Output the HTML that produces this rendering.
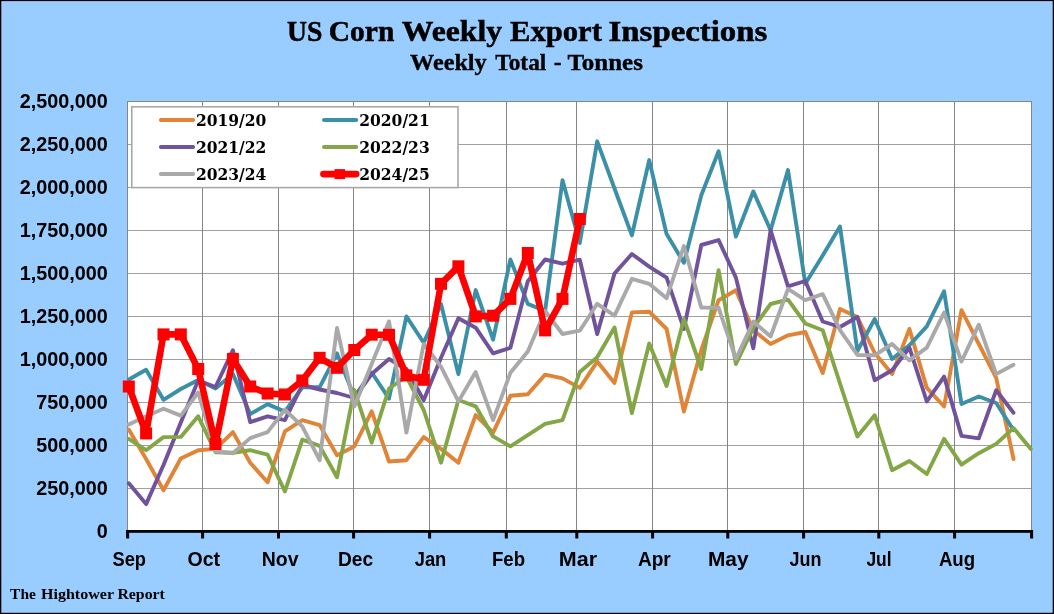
<!DOCTYPE html>
<html><head><meta charset="utf-8"><title>US Corn Weekly Export Inspections</title>
<style>
html,body{margin:0;padding:0;background:#99ccff;}
body{width:1054px;height:614px;overflow:hidden;position:relative;}
svg{position:absolute;left:0;top:0;display:block;}
.t1{font-family:"Liberation Serif",serif;font-weight:bold;font-size:29.5px;fill:#000;stroke:#000;stroke-width:0.5px;}
.t2{font-family:"Liberation Serif",serif;font-weight:bold;font-size:23.4px;fill:#000;stroke:#000;stroke-width:0.35px;}
.ax{font-family:"Liberation Sans",sans-serif;font-weight:bold;font-size:19.8px;fill:#000;}
.lg{font-family:"DejaVu Serif","Liberation Serif",serif;font-weight:bold;font-size:16.4px;fill:#000;}
.ft{font-family:"Liberation Serif",serif;font-weight:bold;font-size:14.5px;fill:#000;}
</style></head><body>
<svg width="1054" height="614" viewBox="0 0 1054 614">

<rect x="0" y="0" width="1054" height="614" fill="#99ccff"/>
<rect x="0" y="0" width="1054" height="1.1" fill="#000"/>
<rect x="0" y="0" width="1.3" height="614" fill="#000"/>
<rect x="1052.7" y="0" width="1.3" height="614" fill="#000"/>
<rect x="0" y="612.8" width="1054" height="1.2" fill="#000"/>
<rect x="127.5" y="101.0" width="904.0" height="430.0" fill="#fff"/>
<path d="M127.5 488.5H1031.5M127.5 445.5H1031.5M127.5 402.5H1031.5M127.5 359.5H1031.5M127.5 316.5H1031.5M127.5 273.5H1031.5M127.5 230.5H1031.5M127.5 187.5H1031.5M127.5 144.5H1031.5M127.5 101.5H1031.5" stroke="#a0a0a0" stroke-width="1" fill="none"/>
<path d="M202.5 101.0V531.0M278.5 101.0V531.0M353.5 101.0V531.0M429.5 101.0V531.0M506.5 101.0V531.0M576.5 101.0V531.0M652.5 101.0V531.0M727.5 101.0V531.0M803.5 101.0V531.0M878.5 101.0V531.0M954.5 101.0V531.0" stroke="#848484" stroke-width="1" fill="none"/>
<rect x="127.5" y="101.5" width="904.0" height="430.0" fill="none" stroke="#868686" stroke-width="1"/>
<polyline points="128.8,429.6 146.1,459.0 163.5,490.3 180.8,458.5 198.2,450.2 215.5,448.9 232.9,432.1 250.2,462.7 267.6,482.3 284.9,431.4 302.3,420.1 319.6,425.1 337.0,455.2 354.3,446.4 371.7,411.3 389.0,461.5 406.4,460.2 423.7,437.1 441.0,448.9 458.4,462.7 475.7,415.1 493.1,432.6 510.4,395.8 527.8,394.3 545.1,374.6 562.5,378.4 579.8,387.9 597.2,361.6 614.5,382.9 631.9,312.4 649.2,311.7 666.6,329.0 683.9,411.5 701.3,350.0 718.6,300.2 735.9,290.2 753.3,330.3 770.6,344.1 788.0,335.3 805.3,332.0 822.7,373.0 840.0,309.0 857.4,317.0 874.7,353.0 892.1,374.1 909.4,328.9 926.8,387.9 944.1,406.5 961.5,310.1 978.8,344.0 996.2,377.8 1013.5,459.0" fill="none" stroke="#e08537" stroke-width="3.9" stroke-linejoin="round" stroke-linecap="round"/>
<polyline points="128.8,379.5 146.1,369.7 163.5,399.8 180.8,389.0 198.2,380.0 215.5,388.5 232.9,374.0 250.2,414.1 267.6,404.1 284.9,411.6 302.3,387.3 319.6,387.3 337.0,353.4 354.3,397.0 371.7,372.5 389.0,398.6 406.4,316.4 423.7,342.8 441.0,304.0 458.4,374.1 475.7,290.1 493.1,339.7 510.4,259.4 527.8,303.9 545.1,311.0 562.5,180.2 579.8,243.0 597.2,141.3 614.5,188.5 631.9,235.4 649.2,160.1 666.6,234.1 683.9,262.8 701.3,195.2 718.6,151.3 735.9,236.5 753.3,191.4 770.6,230.3 788.0,170.1 805.3,283.8 822.7,255.5 840.0,226.5 857.4,351.0 874.7,319.0 892.1,359.0 909.4,345.2 926.8,326.4 944.1,291.3 961.5,404.0 978.8,396.5 996.2,403.0 1013.5,430.1" fill="none" stroke="#3b90a8" stroke-width="3.9" stroke-linejoin="round" stroke-linecap="round"/>
<polyline points="128.8,483.3 146.1,504.1 163.5,465.0 180.8,422.5 198.2,380.5 215.5,387.0 232.9,350.2 250.2,422.1 267.6,416.3 284.9,420.1 302.3,385.0 319.6,389.5 337.0,393.0 354.3,398.0 371.7,374.0 389.0,359.0 406.4,369.0 423.7,400.3 441.0,357.8 458.4,318.2 475.7,327.7 493.1,353.3 510.4,347.8 527.8,281.3 545.1,259.5 562.5,263.7 579.8,259.7 597.2,334.0 614.5,273.5 631.9,254.0 649.2,266.6 666.6,277.7 683.9,329.0 701.3,245.0 718.6,240.1 735.9,277.6 753.3,348.3 770.6,230.3 788.0,286.4 805.3,281.0 822.7,321.5 840.0,327.0 857.4,317.0 874.7,380.2 892.1,370.3 909.4,347.7 926.8,401.5 944.1,376.6 961.5,435.9 978.8,438.4 996.2,390.2 1013.5,412.7" fill="none" stroke="#70539b" stroke-width="3.9" stroke-linejoin="round" stroke-linecap="round"/>
<polyline points="128.8,438.9 146.1,450.2 163.5,437.1 180.8,436.9 198.2,416.3 215.5,452.2 232.9,452.7 250.2,450.2 267.6,454.7 284.9,491.5 302.3,439.7 319.6,445.9 337.0,477.3 354.3,390.0 371.7,442.7 389.0,388.5 406.4,376.5 423.7,410.0 441.0,462.7 458.4,400.0 475.7,406.3 493.1,436.4 510.4,446.4 527.8,435.1 545.1,423.9 562.5,420.1 579.8,372.1 597.2,357.3 614.5,327.5 631.9,413.0 649.2,343.5 666.6,386.0 683.9,319.0 701.3,369.0 718.6,270.2 735.9,364.0 753.3,327.8 770.6,304.0 788.0,299.7 805.3,323.5 822.7,330.2 840.0,383.5 857.4,436.5 874.7,415.2 892.1,470.2 909.4,461.0 926.8,474.0 944.1,438.9 961.5,464.7 978.8,453.2 996.2,443.9 1013.5,428.1 1030.8,448.9" fill="none" stroke="#83a646" stroke-width="3.9" stroke-linejoin="round" stroke-linecap="round"/>
<polyline points="128.8,424.6 146.1,416.3 163.5,408.8 180.8,415.6 198.2,392.5 215.5,451.4 232.9,453.2 250.2,438.1 267.6,432.1 284.9,409.6 302.3,426.4 319.6,460.2 337.0,328.0 354.3,406.4 371.7,364.0 389.0,321.4 406.4,432.6 423.7,344.0 441.0,366.6 458.4,401.5 475.7,372.1 493.1,420.1 510.4,372.8 527.8,351.5 545.1,311.0 562.5,334.0 579.8,330.7 597.2,303.8 614.5,315.6 631.9,278.8 649.2,283.8 666.6,298.2 683.9,246.0 701.3,307.6 718.6,307.8 735.9,359.0 753.3,321.5 770.6,336.5 788.0,288.9 805.3,300.1 822.7,294.2 840.0,330.2 857.4,355.0 874.7,355.3 892.1,344.0 909.4,360.3 926.8,347.7 944.1,312.6 961.5,361.5 978.8,324.7 996.2,374.1 1013.5,364.8" fill="none" stroke="#a9a9a9" stroke-width="3.9" stroke-linejoin="round" stroke-linecap="round"/>
<polyline points="128.8,386.5 146.1,433.4 163.5,334.4 180.8,334.4 198.2,369.0 215.5,444.0 232.9,358.9 250.2,386.5 267.6,393.5 284.9,394.5 302.3,380.5 319.6,357.8 337.0,367.8 354.3,350.0 371.7,334.7 389.0,334.8 406.4,375.4 423.7,379.8 441.0,283.8 458.4,266.3 475.7,316.4 493.1,315.7 510.4,298.9 527.8,253.0 545.1,330.4 562.5,298.9 579.8,219.0" fill="none" stroke="#ff0000" stroke-width="6.6" stroke-linejoin="round" stroke-linecap="round"/>
<rect x="122.8" y="380.5" width="12" height="12" fill="#ff0000"/><rect x="140.1" y="427.4" width="12" height="12" fill="#ff0000"/><rect x="157.5" y="328.4" width="12" height="12" fill="#ff0000"/><rect x="174.8" y="328.4" width="12" height="12" fill="#ff0000"/><rect x="192.2" y="363.0" width="12" height="12" fill="#ff0000"/><rect x="209.5" y="438.0" width="12" height="12" fill="#ff0000"/><rect x="226.9" y="352.9" width="12" height="12" fill="#ff0000"/><rect x="244.2" y="380.5" width="12" height="12" fill="#ff0000"/><rect x="261.6" y="387.5" width="12" height="12" fill="#ff0000"/><rect x="278.9" y="388.5" width="12" height="12" fill="#ff0000"/><rect x="296.3" y="374.5" width="12" height="12" fill="#ff0000"/><rect x="313.6" y="351.8" width="12" height="12" fill="#ff0000"/><rect x="331.0" y="361.8" width="12" height="12" fill="#ff0000"/><rect x="348.3" y="344.0" width="12" height="12" fill="#ff0000"/><rect x="365.7" y="328.7" width="12" height="12" fill="#ff0000"/><rect x="383.0" y="328.8" width="12" height="12" fill="#ff0000"/><rect x="400.4" y="369.4" width="12" height="12" fill="#ff0000"/><rect x="417.7" y="373.8" width="12" height="12" fill="#ff0000"/><rect x="435.0" y="277.8" width="12" height="12" fill="#ff0000"/><rect x="452.4" y="260.3" width="12" height="12" fill="#ff0000"/><rect x="469.7" y="310.4" width="12" height="12" fill="#ff0000"/><rect x="487.1" y="309.7" width="12" height="12" fill="#ff0000"/><rect x="504.4" y="292.9" width="12" height="12" fill="#ff0000"/><rect x="521.8" y="247.0" width="12" height="12" fill="#ff0000"/><rect x="539.1" y="324.4" width="12" height="12" fill="#ff0000"/><rect x="556.5" y="292.9" width="12" height="12" fill="#ff0000"/><rect x="573.8" y="213.0" width="12" height="12" fill="#ff0000"/>
<rect x="126.0" y="530.0" width="907.0" height="2.8" fill="#000"/>
<rect x="126.1" y="530" width="3" height="8.5" fill="#000"/><rect x="201.1" y="530" width="3" height="8.5" fill="#000"/><rect x="277.0" y="530" width="3" height="8.5" fill="#000"/><rect x="352.1" y="530" width="3" height="8.5" fill="#000"/><rect x="428.1" y="530" width="3" height="8.5" fill="#000"/><rect x="504.8" y="530" width="3" height="8.5" fill="#000"/><rect x="575.3" y="530" width="3" height="8.5" fill="#000"/><rect x="651.1" y="530" width="3" height="8.5" fill="#000"/><rect x="726.3" y="530" width="3" height="8.5" fill="#000"/><rect x="802.1" y="530" width="3" height="8.5" fill="#000"/><rect x="877.3" y="530" width="3" height="8.5" fill="#000"/><rect x="953.1" y="530" width="3" height="8.5" fill="#000"/><rect x="1030.1" y="530" width="3" height="8.5" fill="#000"/>
<rect x="131.8" y="106.8" width="326.2" height="80.8" fill="#fff" stroke="#a8a8a8" stroke-width="1.6"/>
<line x1="160.9" y1="119.9" x2="193.1" y2="119.9" stroke="#e08537" stroke-width="4" stroke-linecap="round"/>
<text class="lg" x="195.9" y="125.8" textLength="70.5" lengthAdjust="spacingAndGlyphs">2019/20</text>
<line x1="324.0" y1="119.9" x2="356.2" y2="119.9" stroke="#3b90a8" stroke-width="4" stroke-linecap="round"/>
<text class="lg" x="359.2" y="125.8" textLength="70.5" lengthAdjust="spacingAndGlyphs">2020/21</text>
<line x1="160.9" y1="147.0" x2="193.1" y2="147.0" stroke="#70539b" stroke-width="4" stroke-linecap="round"/>
<text class="lg" x="195.9" y="152.9" textLength="70.5" lengthAdjust="spacingAndGlyphs">2021/22</text>
<line x1="324.0" y1="147.0" x2="356.2" y2="147.0" stroke="#83a646" stroke-width="4" stroke-linecap="round"/>
<text class="lg" x="359.2" y="152.9" textLength="70.5" lengthAdjust="spacingAndGlyphs">2022/23</text>
<line x1="160.9" y1="174.1" x2="193.1" y2="174.1" stroke="#a9a9a9" stroke-width="4" stroke-linecap="round"/>
<text class="lg" x="195.9" y="180.0" textLength="70.5" lengthAdjust="spacingAndGlyphs">2023/24</text>
<line x1="323.4" y1="174.1" x2="356.2" y2="174.1" stroke="#ff0000" stroke-width="6.6" stroke-linecap="round"/>
<rect x="334.5" y="169.1" width="10.6" height="10" fill="#ff0000"/>
<text class="lg" x="359.2" y="180.0" textLength="70.5" lengthAdjust="spacingAndGlyphs">2024/25</text>
<text class="ax" x="107.7" y="537.8" text-anchor="end">0</text>
<text class="ax" x="107.7" y="494.8" text-anchor="end">250,000</text>
<text class="ax" x="107.7" y="451.8" text-anchor="end">500,000</text>
<text class="ax" x="107.7" y="408.8" text-anchor="end">750,000</text>
<text class="ax" x="107.7" y="365.8" text-anchor="end">1,000,000</text>
<text class="ax" x="107.7" y="322.8" text-anchor="end">1,250,000</text>
<text class="ax" x="107.7" y="279.8" text-anchor="end">1,500,000</text>
<text class="ax" x="107.7" y="236.8" text-anchor="end">1,750,000</text>
<text class="ax" x="107.7" y="193.8" text-anchor="end">2,000,000</text>
<text class="ax" x="107.7" y="150.8" text-anchor="end">2,250,000</text>
<text class="ax" x="107.7" y="107.8" text-anchor="end">2,500,000</text>
<text class="ax" x="112.5" y="565.5" textLength="33.5" lengthAdjust="spacingAndGlyphs">Sep</text>
<text class="ax" x="187.6" y="565.5" textLength="32.5" lengthAdjust="spacingAndGlyphs">Oct</text>
<text class="ax" x="261.8" y="565.5" textLength="36.8" lengthAdjust="spacingAndGlyphs">Nov</text>
<text class="ax" x="337.9" y="565.5" textLength="35.2" lengthAdjust="spacingAndGlyphs">Dec</text>
<text class="ax" x="414.7" y="565.5" textLength="31.6" lengthAdjust="spacingAndGlyphs">Jan</text>
<text class="ax" x="492.0" y="565.5" textLength="33.1" lengthAdjust="spacingAndGlyphs">Feb</text>
<text class="ax" x="558.8" y="565.5" textLength="38.2" lengthAdjust="spacingAndGlyphs">Mar</text>
<text class="ax" x="637.9" y="565.5" textLength="32.9" lengthAdjust="spacingAndGlyphs">Apr</text>
<text class="ax" x="707.9" y="565.5" textLength="40.6" lengthAdjust="spacingAndGlyphs">May</text>
<text class="ax" x="789.6" y="565.5" textLength="31.9" lengthAdjust="spacingAndGlyphs">Jun</text>
<text class="ax" x="866.4" y="565.5" textLength="25.2" lengthAdjust="spacingAndGlyphs">Jul</text>
<text class="ax" x="938.9" y="565.5" textLength="36.2" lengthAdjust="spacingAndGlyphs">Aug</text>
<text class="t1" x="286.9" y="41.3" textLength="35.4" lengthAdjust="spacingAndGlyphs">US</text><text class="t1" x="328.8" y="41.3" textLength="65.5" lengthAdjust="spacingAndGlyphs">Corn</text><text class="t1" x="401.7" y="41.3" textLength="100.4" lengthAdjust="spacingAndGlyphs">Weekly</text><text class="t1" x="510.0" y="41.3" textLength="91.9" lengthAdjust="spacingAndGlyphs">Export</text><text class="t1" x="608.6" y="41.3" textLength="158.7" lengthAdjust="spacingAndGlyphs">Inspections</text>
<text class="t2" x="410.0" y="69.6" textLength="76.7" lengthAdjust="spacingAndGlyphs">Weekly</text><text class="t2" x="495.2" y="69.6" textLength="51.2" lengthAdjust="spacingAndGlyphs">Total</text><text class="t2" x="553.7" y="69.6" textLength="7.8" lengthAdjust="spacingAndGlyphs">-</text><text class="t2" x="567.5" y="69.6" textLength="75.4" lengthAdjust="spacingAndGlyphs">Tonnes</text>
<text class="ft" x="10.1" y="598.5" textLength="25.7" lengthAdjust="spacingAndGlyphs">The</text><text class="ft" x="41.0" y="598.5" textLength="73.0" lengthAdjust="spacingAndGlyphs">Hightower</text><text class="ft" x="117.4" y="598.5" textLength="47.5" lengthAdjust="spacingAndGlyphs">Report</text>
</svg>
</body></html>
